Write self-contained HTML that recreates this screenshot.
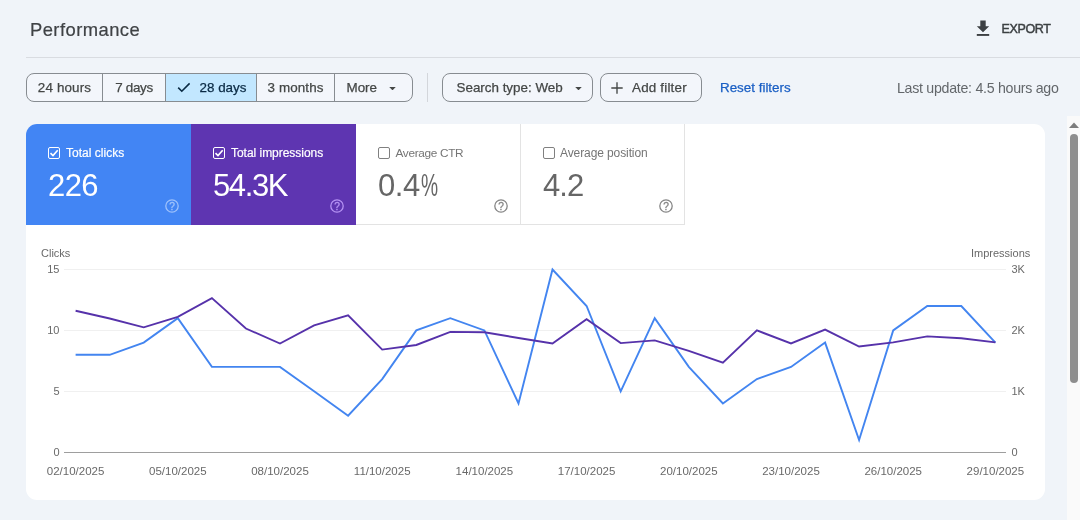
<!DOCTYPE html>
<html lang="en"><head><meta charset="utf-8"><title>Performance</title>
<style>
*{box-sizing:border-box;margin:0;padding:0}
html,body{width:1080px;height:520px;overflow:hidden}
body{background:#f0f4f9;font-family:"Liberation Sans",Arial,sans-serif;color:#444746;position:relative}
.abs{position:absolute;white-space:nowrap}
.title{left:30px;top:18px;font-size:18.4px;line-height:24px;color:#3f4245;letter-spacing:0.44px;-webkit-text-stroke:0.2px #3f4245}
.hr{left:26px;top:57px;width:1054px;height:1px;background:#d9dce1}
.exp{left:1001.5px;top:19.6px;font-size:12.5px;line-height:18px;color:#3c4043;-webkit-text-stroke:0.45px #3c4043;letter-spacing:-.35px}
.seg{left:26px;top:73px;height:29px;border:1px solid #878c91;border-radius:8px;display:flex;overflow:hidden;background:#f3f6fb}
.seg div{height:27px;line-height:27px;font-size:13.4px;color:#444746;border-right:1px solid #878c91;text-align:center;-webkit-text-stroke:0.25px #444746}
.seg div:last-child{border-right:0}
.seg .on{background:#c2e7ff;color:#0a2a44;-webkit-text-stroke:0.25px #0a2a44}
.btn{top:73px;height:29px;border:1px solid #878c91;border-radius:8px;line-height:27px;font-size:13.4px;color:#444746;-webkit-text-stroke:0.25px #444746;background:#f3f6fb}
.vr{left:427px;top:73px;width:1px;height:29px;background:#d3d6db}
.reset{left:720px;top:79px;font-size:13.4px;line-height:18px;color:#1a5fc4;-webkit-text-stroke:0.25px #1a5fc4}
.last{left:897px;top:79px;font-size:14.2px;line-height:18px;color:#63676b;letter-spacing:-.28px}
.card{left:26px;top:124px;width:1019px;height:376px;background:#fff;border-radius:11px;overflow:hidden}
.tile{top:0;height:101px;width:165px}
.t1{left:0;background:#4285f4;color:#fff}
.t2{left:165px;background:#5e35b1;color:#fff}
.t3{left:330px;width:165px;border-right:1px solid #e3e3e3;border-bottom:1px solid #e3e3e3;color:#757575}
.t4{left:495px;width:164px;border-right:1px solid #e3e3e3;border-bottom:1px solid #e3e3e3;color:#757575}
.cb{left:22px;top:23px;width:12px;height:12px;border:1.5px solid currentColor;border-radius:2px}
.lab{left:40px;top:22px;font-size:12px;line-height:14px;letter-spacing:0.05px}
.val{left:22px;top:45px;font-size:31px;line-height:34px;letter-spacing:-0.6px}
.pc{display:inline-block;transform-origin:0 50%;transform:scaleX(.62);margin-left:1.5px}
.t3 .val,.t4 .val{color:#666}
.help{left:139px;top:75px;width:14px;height:14px}
.t1 .help{color:#9fc2fb} .t2 .help{color:#b693f4;left:138.5px}
.t1 .lab,.t2 .lab{-webkit-text-stroke:.2px #fff} .t3 .help,.t4 .help{color:#858585}
.t3 .cb,.t4 .cb{color:#808080}
.t3 .help,.t4 .help{left:138px}
.t3 .cb,.t4 .cb{left:21.5px}
svg text{font-family:"Liberation Sans",Arial,sans-serif}
.sbt{left:1067px;top:116px;width:13px;height:404px;background:#fafafa}
.thumb{left:1070px;top:133.5px;width:8px;height:249.5px;border-radius:4px;background:#8e8e8e}
</style></head><body>
<div class="abs title">Performance</div>
<svg class="abs" style="left:975px;top:18.5px" width="16" height="18" viewBox="0 0 16 18"><path d="M5.3 1.6h5.4v5.6h3.5L8 13.2 1.8 7.2h3.5z" fill="#3c4043"/><rect x="1.8" y="15" width="12.4" height="1.9" fill="#3c4043"/></svg>
<div class="abs exp">EXPORT</div>
<div class="abs hr"></div>

<div class="abs seg">
<div style="width:76px;letter-spacing:.15px">24 hours</div>
<div style="width:63px;letter-spacing:-.3px">7 days</div>
<div class="on" style="width:91px;position:relative;padding-left:24px"><svg style="position:absolute;left:11px;top:8px" width="14" height="11" viewBox="0 0 14 11"><path d="M1.2 5.6l3.6 3.6L12.6 1.4" fill="none" stroke="#0a2a44" stroke-width="1.6"/></svg>28 days</div>
<div style="width:78px;letter-spacing:.12px">3 months</div>
<div style="width:77px;position:relative;text-align:left;padding-left:11.5px">More<svg style="position:absolute;left:54px;top:12.5px" width="7" height="3.5" viewBox="0 0 8 4"><path d="M0.3 0h7.4L4 3.8z" fill="#444746"/></svg></div>
</div>
<div class="abs vr"></div>
<div class="abs btn" style="left:442px;width:151px;padding-left:13.5px">Search type: Web<svg style="position:absolute;left:132px;top:12.5px" width="7" height="3.5" viewBox="0 0 8 4"><path d="M0.3 0h7.4L4 3.8z" fill="#444746"/></svg></div>
<div class="abs btn" style="left:600px;width:102px;padding-left:31px;letter-spacing:.2px">Add filter<svg style="position:absolute;left:9.5px;top:7.5px" width="12" height="12" viewBox="0 0 12 12"><path d="M6 0.3v11.4M0.3 6h11.4" stroke="#444746" stroke-width="1.35" fill="none"/></svg></div>
<div class="abs reset">Reset filters</div>
<div class="abs last">Last update: 4.5 hours ago</div>

<div class="abs card">
 <div class="abs tile t1"><div class="abs cb"><svg style="position:absolute;left:-0.5px;top:-0.5px" width="10" height="10" viewBox="0 0 10 10"><path d="M1.5 5.1l2.5 2.5L8.7 2.2" fill="none" stroke="currentColor" stroke-width="1.6"/></svg></div><div class="abs lab" style="letter-spacing:.02px">Total clicks</div><div class="abs val">226</div>
  <svg class="abs help" viewBox="0 0 14 14"><circle cx="7" cy="7" r="6.2" fill="none" stroke="currentColor" stroke-width="1.3"/><text x="7" y="10.6" font-size="10.2" text-anchor="middle" stroke="currentColor" stroke-width=".3" fill="currentColor">?</text></svg></div>
 <div class="abs tile t2"><div class="abs cb"><svg style="position:absolute;left:-0.5px;top:-0.5px" width="10" height="10" viewBox="0 0 10 10"><path d="M1.5 5.1l2.5 2.5L8.7 2.2" fill="none" stroke="currentColor" stroke-width="1.6"/></svg></div><div class="abs lab" style="letter-spacing:-.03px">Total impressions</div><div class="abs val" style="letter-spacing:-1.4px">54.3K</div>
  <svg class="abs help" viewBox="0 0 14 14"><circle cx="7" cy="7" r="6.2" fill="none" stroke="currentColor" stroke-width="1.3"/><text x="7" y="10.6" font-size="10.2" text-anchor="middle" stroke="currentColor" stroke-width=".3" fill="currentColor">?</text></svg></div>
 <div class="abs tile t3"><div class="abs cb"></div><div class="abs lab" style="left:39.5px;font-size:11.8px;letter-spacing:-.32px">Average CTR</div><div class="abs val" style="letter-spacing:-.4px">0.4<span class="pc">%</span></div>
  <svg class="abs help" viewBox="0 0 14 14"><circle cx="7" cy="7" r="6.2" fill="none" stroke="currentColor" stroke-width="1.3"/><text x="7" y="10.6" font-size="10.2" text-anchor="middle" stroke="currentColor" stroke-width=".3" fill="currentColor">?</text></svg></div>
 <div class="abs tile t4"><div class="abs cb"></div><div class="abs lab" style="left:39px;letter-spacing:-.1px">Average position</div><div class="abs val" style="letter-spacing:-.9px">4.2</div>
  <svg class="abs help" viewBox="0 0 14 14"><circle cx="7" cy="7" r="6.2" fill="none" stroke="currentColor" stroke-width="1.3"/><text x="7" y="10.6" font-size="10.2" text-anchor="middle" stroke="currentColor" stroke-width=".3" fill="currentColor">?</text></svg></div>
</div>

<svg class="abs" style="left:0;top:0" width="1080" height="520" viewBox="0 0 1080 520" font-size="11" fill="#696969">
 <g stroke="#f0f0f0" stroke-width="1"><line x1="64" x2="1006" y1="269.5" y2="269.5"/><line x1="64" x2="1006" y1="330.5" y2="330.5"/><line x1="64" x2="1006" y1="391.5" y2="391.5"/></g>
 <line x1="64" x2="1006" y1="452.5" y2="452.5" stroke="#9e9e9e" stroke-width="1"/>
 <text x="41" y="257.3">Clicks</text>
 <text x="1030.3" y="257.3" text-anchor="end">Impressions</text>
 <g text-anchor="end"><text x="59.5" y="272.5">15</text><text x="59.5" y="333.5">10</text><text x="59.5" y="394.5">5</text><text x="59.5" y="455.5">0</text></g>
 <text x="1011.5" y="272.5">3K</text><text x="1011.5" y="333.5">2K</text><text x="1011.5" y="394.5">1K</text><text x="1011.5" y="455.5">0</text>
 <text x="75.6" y="474.6" text-anchor="middle" font-size="11.5">02/10/2025</text><text x="177.8" y="474.6" text-anchor="middle" font-size="11.5">05/10/2025</text><text x="280.0" y="474.6" text-anchor="middle" font-size="11.5">08/10/2025</text><text x="382.2" y="474.6" text-anchor="middle" font-size="11.5">11/10/2025</text><text x="484.4" y="474.6" text-anchor="middle" font-size="11.5">14/10/2025</text><text x="586.6" y="474.6" text-anchor="middle" font-size="11.5">17/10/2025</text><text x="688.8" y="474.6" text-anchor="middle" font-size="11.5">20/10/2025</text><text x="791.0" y="474.6" text-anchor="middle" font-size="11.5">23/10/2025</text><text x="893.2" y="474.6" text-anchor="middle" font-size="11.5">26/10/2025</text><text x="995.4" y="474.6" text-anchor="middle" font-size="11.5">29/10/2025</text>
 <polyline points="75.6,354.8 109.7,354.8 143.7,342.6 177.8,318.2 211.9,366.9 245.9,366.9 280.0,366.9 314.1,391.3 348.1,415.7 382.2,379.1 416.3,330.4 450.3,318.2 484.4,330.4 518.5,403.5 552.5,269.5 586.6,306.0 620.7,391.3 654.7,318.2 688.8,366.9 722.9,403.5 756.9,379.1 791.0,366.9 825.1,342.6 859.1,440.0 893.2,330.4 927.3,306.0 961.3,306.0 995.4,342.6" fill="none" stroke="#4385f0" stroke-width="1.9"/>
 <polyline points="75.6,310.8 109.7,318.5 143.7,327.3 177.8,316.9 211.9,298.1 245.9,328.5 280.0,343.5 314.1,325.4 348.1,315.4 382.2,349.6 416.3,345.0 450.3,331.9 484.4,332.3 518.5,338.0 552.5,343.5 586.6,319.2 620.7,343.1 654.7,340.4 688.8,350.8 722.9,362.7 756.9,330.4 791.0,343.5 825.1,329.6 859.1,346.5 893.2,342.4 927.3,336.4 961.3,338.3 995.4,342.4" fill="none" stroke="#5632aa" stroke-width="1.9"/>
</svg>

<div class="abs sbt"></div>
<svg class="abs" style="left:1069px;top:122px" width="10" height="6" viewBox="0 0 10 6"><path d="M0 6L5 0.4 10 6z" fill="#7d7d7d"/></svg>
<div class="abs thumb"></div>
</body></html>
